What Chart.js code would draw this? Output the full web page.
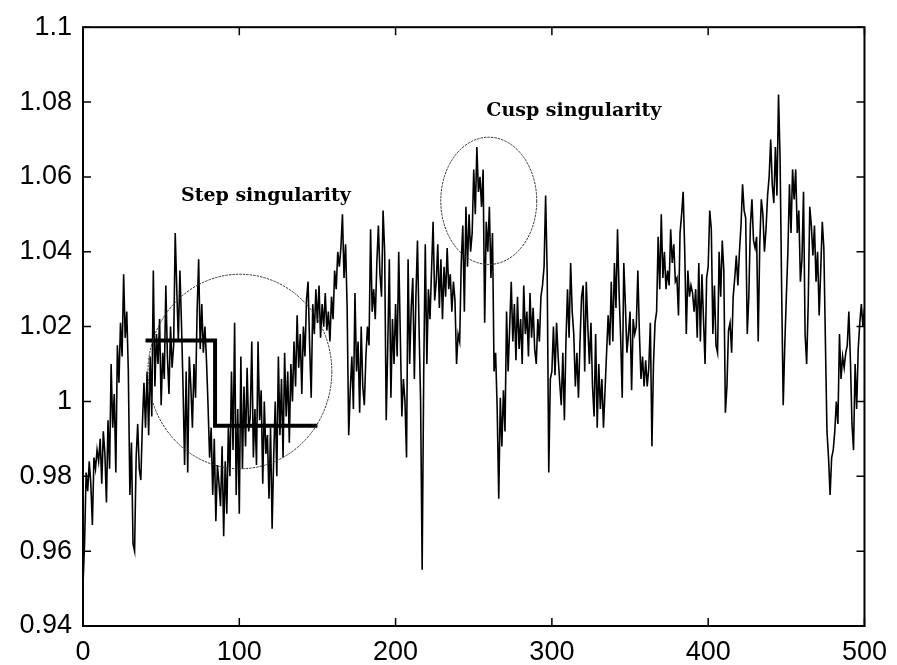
<!DOCTYPE html>
<html><head><meta charset="utf-8">
<script src="https://cdn.jsdelivr.net/npm/chart.js@4"></script>
<style>html,body{margin:0;padding:0;background:#fff}</style>
</head><body>
<canvas id="c" width="897" height="665"></canvas>
<script>
// Signal values, one per sample index 0..500
const signalValues = [
0.951,0.962,0.981,0.976,0.984,0.978,0.967,0.985,0.982,0.987,
0.984,0.990,0.978,0.992,0.986,0.973,0.995,0.982,1.010,0.993,
1.002,0.981,1.015,1.005,1.021,1.012,1.034,1.017,1.024,1.008,
0.975,0.989,0.962,0.960,0.985,0.994,0.982,0.979,0.994,1.005,
0.993,1.008,0.991,1.012,0.996,1.035,1.004,1.018,1.010,1.022,
0.999,1.013,1.006,1.031,1.012,1.002,1.020,1.009,1.015,1.045,
1.030,1.016,1.035,1.021,1.004,0.983,1.008,0.981,1.012,1.004,
0.993,1.010,1.001,1.024,1.038,1.014,1.026,1.013,1.020,1.011,
0.999,0.985,0.993,0.975,0.990,0.968,0.983,0.978,0.972,0.988,
0.964,0.984,0.970,0.993,0.980,1.008,0.987,1.021,0.975,0.998,
0.970,1.012,0.982,1.004,0.988,1.009,0.992,0.996,1.016,0.985,
0.998,0.983,1.016,0.995,1.003,0.978,1.000,0.986,0.991,0.974,
0.993,0.966,0.985,1.000,0.980,1.012,0.991,1.006,0.985,1.013,
0.996,1.008,0.989,1.010,1.000,1.016,1.004,1.023,1.009,1.018,
1.002,1.020,1.012,1.027,1.032,1.015,1.001,1.026,1.018,1.030,
1.021,1.031,1.017,1.026,1.020,1.029,1.019,1.024,1.016,1.028,
1.022,1.035,1.030,1.040,1.036,1.041,1.050,1.033,1.042,1.025,
0.991,1.003,1.012,0.998,1.029,1.008,1.016,0.997,1.020,1.004,
0.999,1.012,1.020,1.015,1.046,1.024,1.030,1.022,1.037,1.047,
1.034,1.028,1.051,1.040,0.995,1.015,1.038,1.001,1.022,1.010,
1.026,1.012,1.040,1.018,0.996,1.006,1.000,0.985,1.038,1.010,
1.025,1.033,1.006,1.028,1.043,1.020,1.000,0.955,1.008,1.042,
1.010,1.030,1.022,1.035,1.048,1.027,1.032,1.042,1.025,1.038,
1.022,1.036,1.028,1.041,1.030,1.034,1.024,1.032,1.027,1.010,
1.018,1.016,1.037,1.047,1.024,1.052,1.036,1.050,1.040,1.045,
1.062,1.050,1.068,1.056,1.060,1.052,1.062,1.021,1.048,1.040,
1.052,1.033,1.045,1.008,1.013,0.998,0.974,1.001,0.988,1.003,
0.992,1.024,1.008,1.020,1.032,1.016,1.026,1.011,1.028,1.014,
1.022,1.010,1.031,1.018,1.024,1.012,1.029,1.017,1.025,1.014,
1.010,1.022,1.016,1.028,1.031,1.036,1.055,1.034,0.981,1.006,
1.008,1.020,1.007,1.021,1.012,1.005,0.999,1.013,0.995,1.016,
1.030,1.017,1.037,1.024,1.018,1.004,1.013,1.001,1.016,1.028,
1.031,1.008,1.032,1.020,1.010,1.021,1.004,0.996,1.018,0.993,
1.010,0.998,1.006,0.993,1.003,1.013,1.023,1.015,1.032,1.016,
1.037,1.025,1.046,1.029,1.017,1.001,1.037,1.026,1.013,1.018,
1.024,1.003,1.022,1.018,1.020,1.035,1.018,1.006,1.012,1.004,
1.011,1.004,1.009,1.021,0.988,1.010,1.021,1.024,1.044,1.030,
1.050,1.033,1.040,1.030,1.035,1.031,1.046,1.037,1.042,1.032,
1.033,1.023,1.045,1.050,1.056,1.040,1.018,1.035,1.028,1.031,
1.029,1.024,1.030,1.017,1.037,1.016,1.034,1.022,1.010,1.033,
1.036,1.051,1.046,1.018,1.031,1.015,1.013,1.040,1.028,1.043,
1.035,0.997,1.004,1.019,1.021,1.013,1.028,1.033,1.039,1.031,
1.040,1.047,1.058,1.051,1.049,1.018,1.028,1.047,1.054,1.043,
1.041,1.044,1.016,1.042,1.054,1.050,1.040,1.046,1.055,1.060,
1.070,1.058,1.053,1.068,1.055,1.082,1.065,1.030,0.999,1.015,
1.028,1.040,1.058,1.045,1.062,1.054,1.062,1.045,1.051,1.032,
1.038,1.056,1.018,1.010,1.026,1.052,1.047,1.039,1.047,1.032,
1.040,1.023,1.035,1.048,1.041,1.016,0.992,0.985,0.975,0.985,
0.987,0.992,1.000,0.994,1.018,1.006,1.012,1.009,1.013,1.015,
1.024,1.011,0.994,0.987,1.010,0.998,1.014,1.021,1.026,1.020,
1.025
];
// Step (piecewise constant) overlay
const stepX = [40, 84.5, 84.5, 150];
const stepY = [1.0163, 1.0163, 0.9935, 0.9935];
// Tick values
const xTicks = [0, 100, 200, 300, 400, 500];
const yTicks = [0.94, 0.96, 0.98, 1, 1.02, 1.04, 1.06, 1.08, 1.1];
// Annotation labels (data coordinates)
const labelTexts = ['Step singularity', 'Cusp singularity'];
const labelX = [117, 314];
const labelY = [1.0549, 1.0775];
// Ellipses marking singularities (data coordinates)
const ellipseCX = [100.4, 259.6];
const ellipseCY = [1.008, 1.0536];
const ellipseRX = [58.8, 30.7];
const ellipseRY = [0.026, 0.017];

const signalPoints = signalValues.map((v, i) => ({x: i, y: v}));
const stepPoints = stepX.map((x, i) => ({x: x, y: stepY[i]}));

const framePlugin = {
  id: 'frame',
  afterDatasetsDraw(chart) {
    const {ctx, chartArea: a, scales: {x, y}} = chart;
    ctx.save();
    // ellipses
    ctx.strokeStyle = '#333';
    ctx.lineWidth = 1;
    ctx.setLineDash([2.5, 1]);
    for (let i = 0; i < ellipseCX.length; i++) {
      const cx = x.getPixelForValue(ellipseCX[i]);
      const cy = y.getPixelForValue(ellipseCY[i]);
      const rx = Math.abs(x.getPixelForValue(ellipseCX[i] + ellipseRX[i]) - cx);
      const ry = Math.abs(y.getPixelForValue(ellipseCY[i] + ellipseRY[i]) - cy);
      ctx.beginPath();
      ctx.ellipse(cx, cy, rx, ry, 0, 0, Math.PI * 2);
      ctx.stroke();
    }
    ctx.setLineDash([]);
    // labels
    ctx.fillStyle = '#000';
    ctx.font = 'bold 19px "DejaVu Serif"';
    ctx.textAlign = 'center';
    ctx.textBaseline = 'middle';
    for (let i = 0; i < labelTexts.length; i++) {
      ctx.fillText(labelTexts[i], x.getPixelForValue(labelX[i]), y.getPixelForValue(labelY[i]));
    }
    // frame
    ctx.strokeStyle = '#000';
    ctx.lineWidth = 2;
    ctx.strokeRect(a.left, a.top, a.right - a.left, a.bottom - a.top);
    // inward ticks
    ctx.lineWidth = 1.5;
    const L = 8;
    ctx.beginPath();
    xTicks.forEach(v => {
      const px = x.getPixelForValue(v);
      ctx.moveTo(px, a.bottom); ctx.lineTo(px, a.bottom - L);
      ctx.moveTo(px, a.top); ctx.lineTo(px, a.top + L);
    });
    yTicks.forEach(v => {
      const py = y.getPixelForValue(v);
      ctx.moveTo(a.left, py); ctx.lineTo(a.left + L, py);
      ctx.moveTo(a.right, py); ctx.lineTo(a.right - L, py);
    });
    ctx.stroke();
    ctx.restore();
  }
};

const tickFont = {family: '"Liberation Sans", Arial, sans-serif', size: 27};

new Chart(document.getElementById('c'), {
  type: 'line',
  data: {
    datasets: [
      {data: signalPoints, borderColor: '#000', borderWidth: 1.6, pointRadius: 0, tension: 0},
      {data: stepPoints, borderColor: '#000', borderWidth: 4, pointRadius: 0, tension: 0}
    ]
  },
  options: {
    responsive: false,
    animation: false,
    devicePixelRatio: 1,
    layout: {padding: {top: 23, right: 32, left: 0, bottom: 0}},
    plugins: {legend: {display: false}, tooltip: {enabled: false}},
    scales: {
      x: {
        type: 'linear', min: 0, max: 500,
        grid: {display: false, drawTicks: false},
        border: {display: false},
        afterBuildTicks: s => { s.ticks = xTicks.map(v => ({value: v})); },
        afterFit: s => { s.height = 39; },
        ticks: {font: tickFont, color: '#000', padding: 10, maxRotation: 0, callback: v => String(v)}
      },
      y: {
        type: 'linear', min: 0.94, max: 1.1,
        grid: {display: false, drawTicks: false},
        border: {display: false},
        afterBuildTicks: s => { s.ticks = yTicks.map(v => ({value: v})); },
        afterFit: s => { s.width = 83; },
        ticks: {font: tickFont, color: '#000', padding: 11, callback: v => String(+v.toFixed(2))}
      }
    }
  },
  plugins: [framePlugin]
});
</script>
</body></html>
